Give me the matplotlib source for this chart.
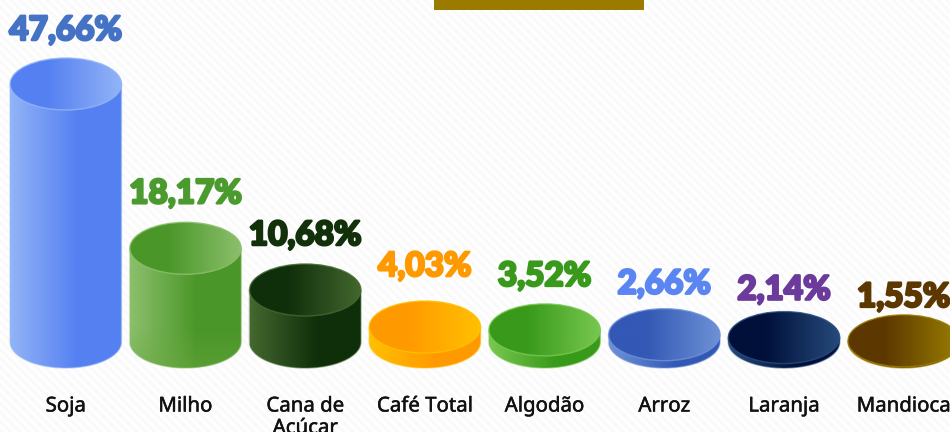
import numpy as np
import matplotlib
matplotlib.use("Agg")
import matplotlib.pyplot as plt
from matplotlib.colors import LinearSegmentedColormap, to_rgb
from matplotlib.patches import Ellipse, PathPatch, Rectangle
from matplotlib.path import Path
import matplotlib.patheffects as pe

categories = ["Soja", "Milho", "Cana de\nAçúcar", "Café Total", "Algodão", "Arroz", "Laranja", "Mandioca"]
values = [47.66, 18.17, 10.68, 4.03, 3.52, 2.66, 2.14, 1.55]
value_labels = ["47,66%", "18,17%", "10,68%", "4,03%", "3,52%", "2,66%", "2,14%", "1,55%"]
dark_colors = ["#5580f2", "#4a9628", "#0f2e0a", "#ff9900", "#38991a", "#3358b5", "#00103a", "#5c3800"]
light_colors = ["#92b4f7", "#8cc06c", "#44682f", "#ffc000", "#78c850", "#6e92d6", "#264a7c", "#9a7d00"]
label_colors = ["#4472c4", "#4a9a2e", "#12300a", "#ff9900", "#38991a", "#5b85f0", "#6b3a9a", "#5c3800"]
label_gaps_px = [18, 19, 19, 25, 18, 15, 12, 8]

W, H = 950, 432
fig = plt.figure(figsize=(W / 100, H / 100), dpi=100)
ax = fig.add_axes([0, 0, 1, 1])

step, x0 = 119.7, 65.8
py0, k = 349.5, 5.57
ax.set_xlim(-x0 / step, (W - x0) / step)
ax.set_ylim((py0 - H) / k, py0 / k)
ax.axis("off")

half_w = 55.7 / step
semi_h = 26 / k
base = (py0 - 342) / k

# background stripes
yy, xx = np.mgrid[0:H, 0:W]
stripes = ((xx - yy) % 9 < 4.5) * 1.0
bg = LinearSegmentedColormap.from_list("bg", ["#ffffff", "#fafafa"])
ax.imshow(stripes, extent=ax.get_xlim() + ax.get_ylim(), origin="upper", cmap=bg, aspect="auto",
          zorder=0, interpolation="bilinear")


def gradient(stops, cols, extent, clip, z):
    t = np.linspace(0, 1, 128)
    c = np.array([to_rgb(x) for x in cols])
    g = np.stack([np.interp(t, stops, c[:, i]) for i in range(3)], axis=-1)[None, :, :]
    im = ax.imshow(g, extent=extent, aspect="auto", zorder=z, interpolation="bilinear")
    im.set_clip_path(clip)


for i, (v, lab, txt, d, l, tc, gap) in enumerate(zip(values, categories, value_labels, dark_colors,
                                                     light_colors, label_colors, label_gaps_px)):
    xl, xr = i - half_w, i + half_w
    z = 2 + i * 0.1
    th = np.linspace(np.pi, 2 * np.pi, 60)
    verts = [(xl, v)] + list(zip(i + half_w * np.cos(th), base + semi_h * np.sin(th))) + [(xr, v), (xl, v)]
    ax.add_patch(PathPatch(Path(verts), facecolor="none", edgecolor=l, lw=1.0, alpha=0.5, zorder=z + 0.02))
    clip_side = PathPatch(Path(verts), facecolor="none", edgecolor="none")
    ax.add_patch(clip_side)
    gradient([0, 0.6, 1], [l, d, d], (xl, xr, base - semi_h, v), clip_side, z)
    if i == 1:
        # lighter, slightly greyish sheen on the lower part of the Milho cylinder
        a = np.linspace(0.45, 0, 64)[:, None] * np.ones((64, 128))
        rgba = np.dstack([np.full_like(a, 0.42), np.full_like(a, 0.66), np.full_like(a, 0.25), a])
        im = ax.imshow(rgba, extent=(xl, xr, base - semi_h, base + 0.6 * semi_h), origin="lower", aspect="auto",
                       zorder=z + 0.01)
        im.set_clip_path(clip_side)
    top_clip = Ellipse((i, v), 2 * half_w, 2 * semi_h, facecolor="none", edgecolor="none")
    ax.add_patch(top_clip)
    gradient([0, 0.33, 1], [d, d, l], (xl, xr, v - semi_h, v + semi_h), top_clip, z + 0.05)
    ax.add_patch(Ellipse((i, v), 2 * half_w, 2 * semi_h, facecolor="none", edgecolor=l, lw=1.0, alpha=0.85,
                         zorder=z + 0.06))
    ax.text(i, v + semi_h + gap / k, txt, ha="center", va="baseline", color=tc, fontsize=24, family="Lato",
            fontweight="black", zorder=5,
            path_effects=[pe.withStroke(linewidth=1.8, foreground=tc)])
    for j, part in enumerate(lab.split("\n")):
        ax.text(i, (py0 - 411.5 - 22 * j) / k, part, ha="center", va="baseline", color="#111111",
                fontsize=14.7, family="Noto Sans", zorder=5,
                path_effects=[pe.withStroke(linewidth=0.35, foreground="#111111")])

fig.add_artist(Rectangle((434 / W, 1 - 10 / H), 210 / W, 10 / H, transform=fig.transFigure,
                         facecolor="#9a7b00", edgecolor="none"))

fig.savefig("out.png", dpi=100)
